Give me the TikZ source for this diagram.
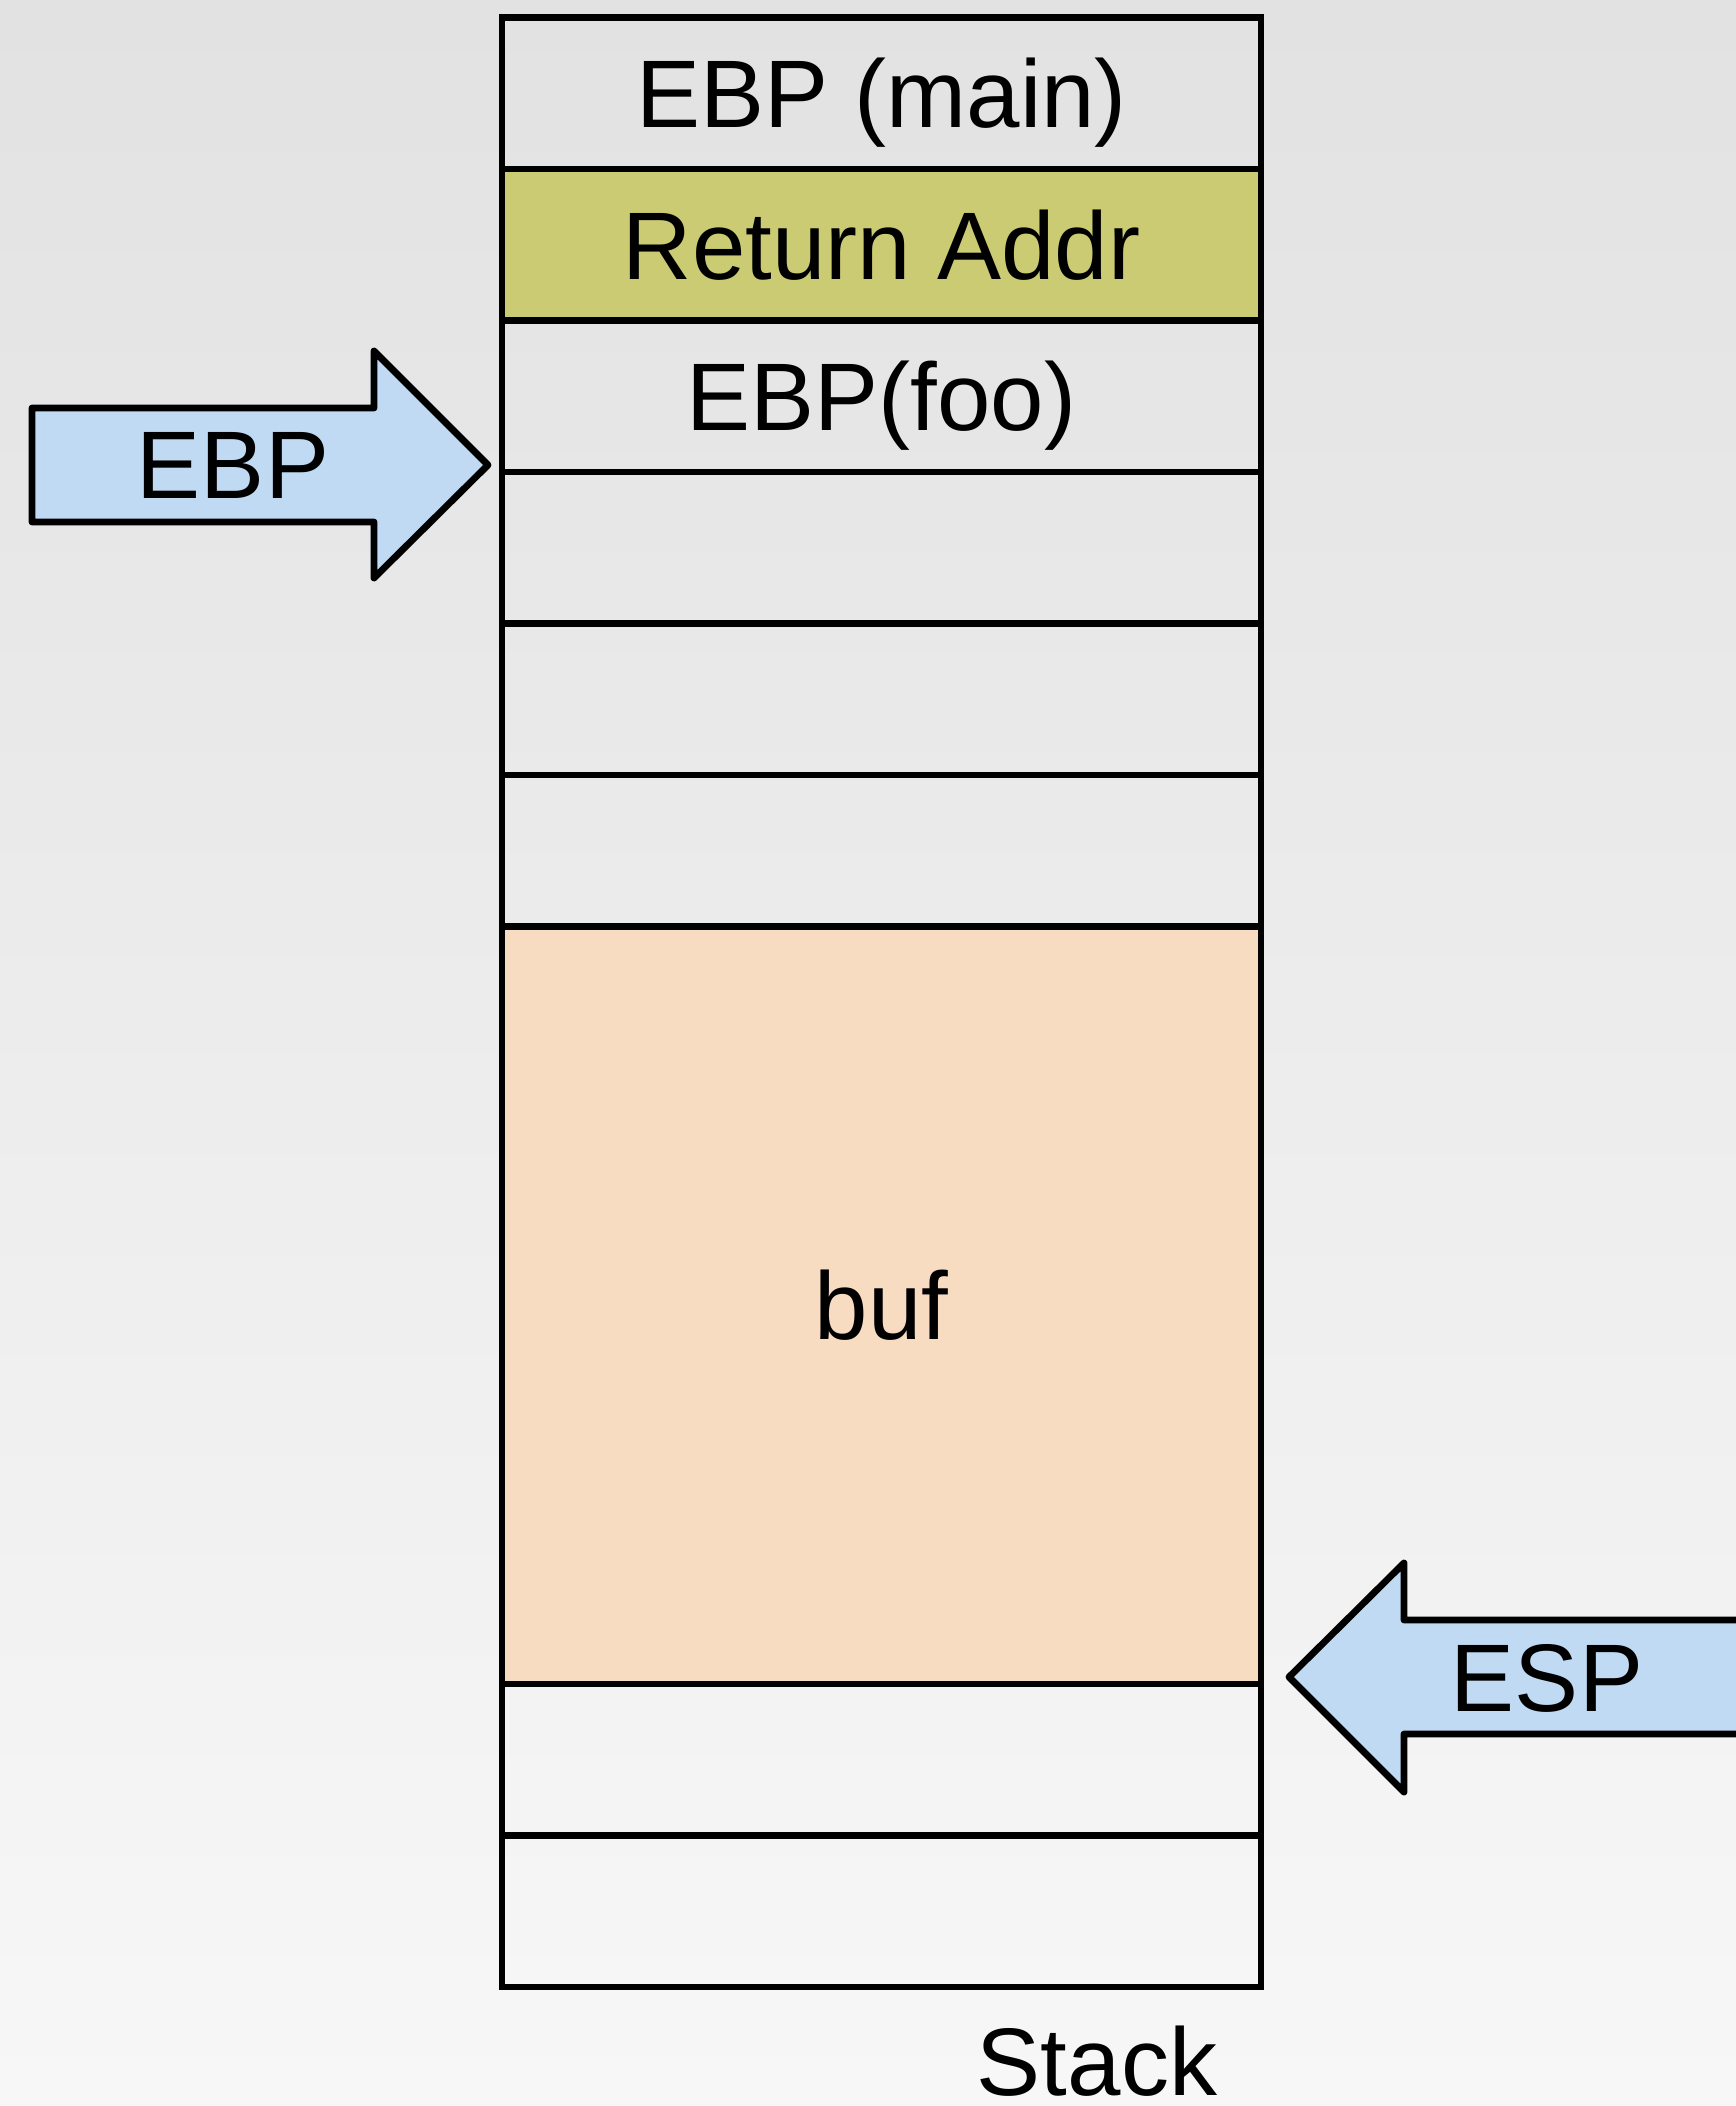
\documentclass[tikz,border=0pt]{standalone}
\usepackage{fontspec}
\setmainfont{Liberation Sans}
\usetikzlibrary{shadings}
\definecolor{bgtop}{HTML}{E2E2E2}
\definecolor{bgbot}{HTML}{F7F7F7}
\definecolor{retfill}{HTML}{CBCB74}
\definecolor{buffill}{HTML}{F8DCC2}
\definecolor{arrowfill}{HTML}{BFDAF2}
\tikzset{
  px/.style={x=0.5pt,y=-0.5pt},
  cell/.style={draw=black, line width=3.4pt, rectangle, inner sep=0pt,
    minimum width=379.5pt, minimum height=75.75pt,
    font=\fontsize{48}{48}\selectfont, text height=34.4pt, text depth=0pt},
  lbl/.style={inner sep=0pt, font=\fontsize{48}{48}\selectfont, text height=34.4pt, text depth=0pt},
  ptr/.style={draw=black, fill=arrowfill, line width=3.4pt, line join=round}
}
\begin{document}
\begin{tikzpicture}[px]
\useasboundingbox (0,0) rectangle (1736,2106);
\clip (0,0) rectangle (1736,2106);
\shade[top color=bgtop, bottom color=bgbot] (0,0) rectangle (1736,2106);
% stack cells
\node[cell] (c1) at (881.5,93.25) {EBP (main)};
\node[cell, fill=retfill] (c2) at (881.5,244.75) {Return Addr};
\node[cell] (c3) at (881.5,396.25) {EBP(foo)};
\node[cell] (c4) at (881.5,547.75) {};
\node[cell] (c5) at (881.5,699.25) {};
\node[cell] (c6) at (881.5,850.75) {};
\node[cell, fill=buffill, minimum height=378.75pt] (buf) at (881.5,1305.25) {buf};
\node[cell] (c7) at (881.5,1759.75) {};
\node[cell] (c8) at (881.5,1911.25) {};
% EBP pointer
\draw[ptr] (32,408) -- (374,408) -- (374,351) -- (488,465) -- (374,578) -- (374,522) -- (32,522) -- cycle;
\node[lbl] (ebp) at (233,464.5) {EBP};
% ESP pointer
\draw[ptr] (1770,1620) -- (1404,1620) -- (1404,1563) -- (1289,1677) -- (1404,1792) -- (1404,1734) -- (1770,1734);
\node[lbl] (esp) at (1547,1677) {ESP};
% caption
\node[lbl] (stack) at (1097,2061) {Stack};
\end{tikzpicture}
\end{document}
